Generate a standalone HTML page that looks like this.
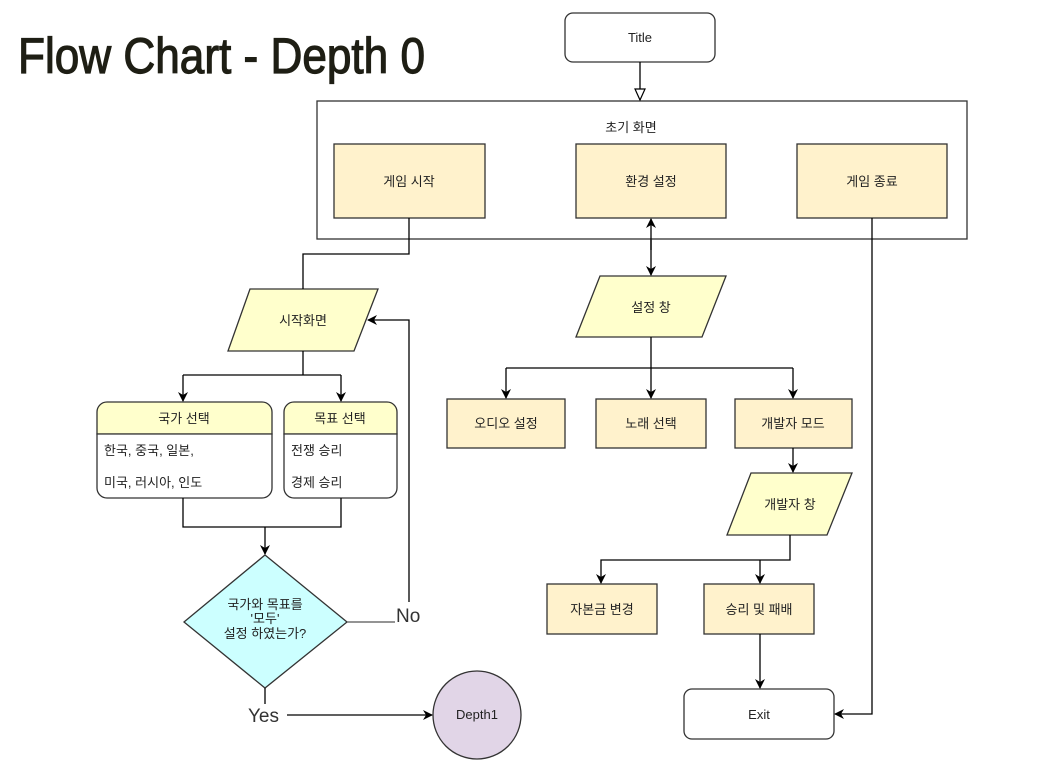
<!DOCTYPE html>
<html><head><meta charset="utf-8"><style>
html,body{margin:0;padding:0;background:#fff;}
svg{display:block;}
text{font-family:"Liberation Sans","Noto Sans CJK KR","NanumGothic",sans-serif;fill:#222;}
</style></head><body>
<svg width="1042" height="764" viewBox="0 0 1042 764" xmlns="http://www.w3.org/2000/svg">
<defs>
<marker id="a" markerWidth="10" markerHeight="10" refX="9" refY="5" orient="auto" markerUnits="userSpaceOnUse">
<path d="M0,0 L10,5 L0,10 L3,5 Z" fill="#000"/></marker>
<marker id="h" markerWidth="14" markerHeight="12" refX="12" refY="6" orient="auto" markerUnits="userSpaceOnUse">
<path d="M1,1 L12,6 L1,11 Z" fill="#fff" stroke="#000" stroke-width="1.2"/></marker>
</defs>
<text x="18" y="73" font-size="50" textLength="407" lengthAdjust="spacingAndGlyphs" style="fill:#1e1e14;stroke:#1e1e14;stroke-width:1.2">Flow Chart  - Depth 0</text>

<g stroke="#333" stroke-width="1.3">
<rect x="565" y="13" width="150" height="49" rx="8" fill="#fff"/>
<rect x="317" y="101" width="650" height="138" fill="#fff"/>
<rect x="334" y="144" width="151" height="74" fill="#fff2cc"/>
<rect x="576" y="144" width="150" height="74" fill="#fff2cc"/>
<rect x="797" y="144" width="150" height="74" fill="#fff2cc"/>
<polygon points="250,289 378,289 354,351 228,351" fill="#ffffcc"/>
<polygon points="600,276 726,276 702,337 576,337" fill="#ffffcc"/>
<polygon points="751,473 852,473 827,535 727,535" fill="#ffffcc"/>
<rect x="447" y="399" width="118" height="49" fill="#fff2cc"/>
<rect x="596" y="399" width="110" height="49" fill="#fff2cc"/>
<rect x="735" y="399" width="117" height="49" fill="#fff2cc"/>
<rect x="547" y="584" width="110" height="50" fill="#fff2cc"/>
<rect x="704" y="584" width="110" height="50" fill="#fff2cc"/>
<rect x="684" y="689" width="150" height="50" rx="8" fill="#fff"/>
<polygon points="265,555 347,622 265,688 184,622" fill="#ccffff"/>
<circle cx="477" cy="715" r="44" fill="#e1d5e7"/>
<path d="M107,402 H262 A10,10 0 0 1 272,412 V434 H97 V412 A10,10 0 0 1 107,402 Z" fill="#ffffcc"/>
<path d="M97,434 H272 V488 A10,10 0 0 1 262,498 H107 A10,10 0 0 1 97,488 Z" fill="#fff"/>
<path d="M294,402 H387 A10,10 0 0 1 397,412 V434 H284 V412 A10,10 0 0 1 294,402 Z" fill="#ffffcc"/>
<path d="M284,434 H397 V488 A10,10 0 0 1 387,498 H294 A10,10 0 0 1 284,488 Z" fill="#fff"/>
</g>

<g stroke="#000" stroke-width="1.3" fill="none">
<line x1="640" y1="62" x2="640" y2="100" marker-end="url(#h)"/>
<polyline points="409,218 409,254 303,254 303,289"/>
<polyline points="303,351 303,375"/>
<line x1="183" y1="375" x2="341" y2="375"/>
<line x1="183" y1="375" x2="183" y2="401" marker-end="url(#a)"/>
<line x1="341" y1="375" x2="341" y2="401" marker-end="url(#a)"/>
<polyline points="183,498 183,527 341,527 341,498"/>
<line x1="265" y1="527" x2="265" y2="554" marker-end="url(#a)"/>
<line x1="347" y1="622" x2="395" y2="622" stroke="#555"/>
<polyline points="409,602 409,320 368,320" marker-end="url(#a)"/>
<line x1="265" y1="688" x2="265" y2="704"/>
<line x1="287" y1="715" x2="432" y2="715" marker-end="url(#a)"/>
<line x1="651" y1="250" x2="651" y2="219" marker-end="url(#a)"/>
<line x1="651" y1="240" x2="651" y2="275" marker-end="url(#a)"/>
<line x1="651" y1="337" x2="651" y2="398" marker-end="url(#a)"/>
<line x1="506" y1="368" x2="793" y2="368"/>
<line x1="506" y1="368" x2="506" y2="398" marker-end="url(#a)"/>
<line x1="793" y1="368" x2="793" y2="398" marker-end="url(#a)"/>
<line x1="793" y1="448" x2="793" y2="472" marker-end="url(#a)"/>
<polyline points="790,535 790,560 601,560 601,583" marker-end="url(#a)"/>
<line x1="760" y1="560" x2="760" y2="583" marker-end="url(#a)"/>
<line x1="760" y1="634" x2="760" y2="688" marker-end="url(#a)"/>
<polyline points="872,218 872,714 835,714" marker-end="url(#a)"/>
</g>

<g font-size="13" text-anchor="middle">
<text x="640" y="42">Title</text>
<text x="631" y="132">초기 화면</text>
<text x="409" y="186">게임 시작</text>
<text x="651" y="186">환경 설정</text>
<text x="872" y="186">게임 종료</text>
<text x="303" y="325">시작화면</text>
<text x="651" y="312">설정 창</text>
<text x="790" y="509">개발자 창</text>
<text x="506" y="428">오디오 설정</text>
<text x="651" y="428">노래 선택</text>
<text x="793" y="428">개발자 모드</text>
<text x="602" y="614">자본금 변경</text>
<text x="759" y="614">승리 및 패배</text>
<text x="759" y="719">Exit</text>
<text x="477" y="719">Depth1</text>
<text x="184" y="423">국가 선택</text>
<text x="340" y="423">목표 선택</text>
<text x="265" y="609">국가와 목표를</text>
<text x="265" y="623">'모두'</text>
<text x="265" y="638">설정 하였는가?</text>
</g>
<g font-size="13">
<text x="104" y="455">한국, 중국, 일본,</text>
<text x="104" y="487">미국, 러시아, 인도</text>
<text x="291" y="455">전쟁 승리</text>
<text x="291" y="487">경제 승리</text>
</g>
<text x="396" y="622" font-size="19" style="fill:#333">No</text>
<text x="248" y="722" font-size="19" style="fill:#333">Yes</text>
</svg>
</body></html>
